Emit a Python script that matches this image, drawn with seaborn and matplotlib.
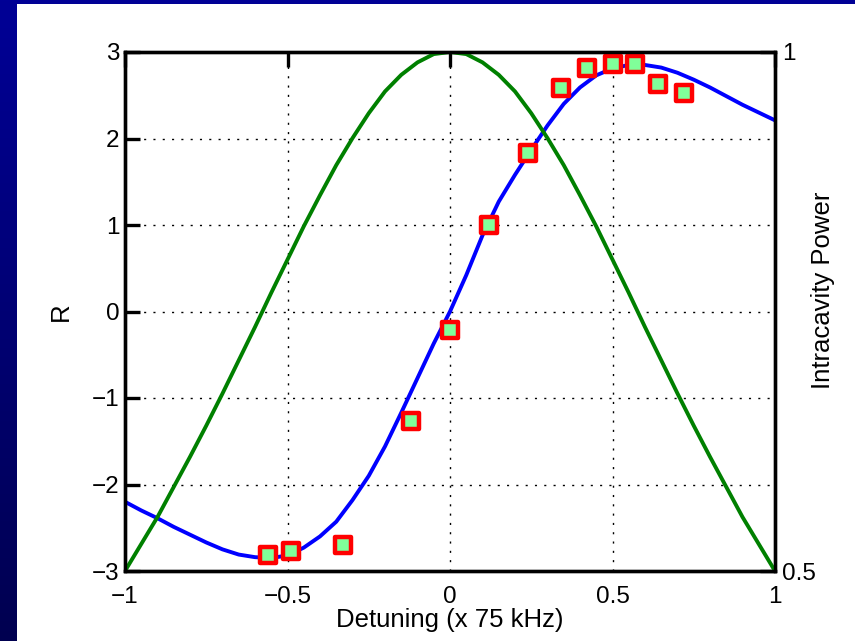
import numpy as np
import pandas as pd
import matplotlib
matplotlib.use('Agg')
import matplotlib.pyplot as plt
from matplotlib.patches import Rectangle
import seaborn as sns

detuning = [-1.00, -0.95, -0.90, -0.85, -0.80, -0.75, -0.70, -0.65, -0.60, -0.55,
            -0.50, -0.45, -0.40, -0.35, -0.30, -0.25, -0.20, -0.15, -0.10, -0.05,
            0.00, 0.05, 0.10, 0.15, 0.20, 0.25, 0.30, 0.35, 0.40, 0.45,
            0.50, 0.55, 0.60, 0.65, 0.70, 0.75, 0.80, 0.85, 0.90, 0.95, 1.00]

# fitted R (blue, left axis)
fit_R = [-2.20, -2.30, -2.39, -2.49, -2.58, -2.67, -2.75, -2.81, -2.84, -2.85,
         -2.82, -2.73, -2.60, -2.43, -2.18, -1.90, -1.56, -1.17, -0.77, -0.37,
         0.00, 0.42, 0.88, 1.27, 1.58, 1.87, 2.15, 2.40, 2.59, 2.73,
         2.81, 2.85, 2.85, 2.82, 2.76, 2.68, 2.59, 2.49, 2.39, 2.30, 2.21]

# intracavity power (green, right axis)
power = [0.500, 0.526, 0.552, 0.581, 0.610, 0.640, 0.671, 0.703, 0.735, 0.768,
         0.800, 0.832, 0.862, 0.891, 0.917, 0.941, 0.962, 0.978, 0.990, 0.998,
         1.000, 0.998, 0.990, 0.978, 0.962, 0.941, 0.917, 0.891, 0.862, 0.832,
         0.800, 0.768, 0.735, 0.703, 0.671, 0.640, 0.610, 0.581, 0.552, 0.526, 0.500]

# measured points
meas_x = [-0.56, -0.49, -0.33, -0.12, 0.00, 0.12, 0.24, 0.34, 0.42, 0.50, 0.57, 0.64, 0.72]
meas_R = [-2.82, -2.77, -2.70, -1.27, -0.21, 1.00, 1.83, 2.58, 2.81, 2.86, 2.86, 2.63, 2.53]

x_ticks = [-1, -0.5, 0, 0.5, 1]
x_labels = ['\u22121', '\u22120.5', '0', '0.5', '1']
y_ticks = [-3, -2, -1, 0, 1, 2, 3]
y_labels = ['\u22123', '\u22122', '\u22121', '0', '1', '2', '3']
p_ticks = [0.5, 1]
p_labels = ['0.5', '1']

curves = pd.DataFrame({'Detuning': detuning, 'R': fit_R, 'Power': power})
points = pd.DataFrame({'Detuning': meas_x, 'R': meas_R})

sns.set_theme(style='white')
plt.rcParams['font.family'] = ['Liberation Sans', 'DejaVu Sans']
plt.rcParams['axes.unicode_minus'] = True

fig = plt.figure(figsize=(8.55, 6.41), dpi=100)

# slide-style navy frame behind a white page
bg = fig.add_axes([0, 0, 1, 1], zorder=-10)
grad = np.linspace(150, 80, 256)[:, None] / 255.0
bg.imshow(np.dstack([np.zeros_like(grad), np.zeros_like(grad), grad]),
          aspect='auto', extent=[0, 1, 0, 1])
bg.add_patch(Rectangle((17 / 855, 0), 1, 1 - 4 / 641, facecolor='white', edgecolor='none'))
bg.set_xlim(0, 1)
bg.set_ylim(0, 1)
bg.axis('off')

ax = fig.add_axes([125 / 855, 70 / 641, 650 / 855, 519 / 641])
ax.set_facecolor('white')

sns.lineplot(data=curves, x='Detuning', y='R', ax=ax, color='#0000ff', lw=2.8,
             sort=False, estimator=None)
sns.scatterplot(data=points, x='Detuning', y='R', ax=ax, marker='s', s=117,
                color='#80ff99', edgecolor='#ff0000', linewidth=3.2, zorder=4)

ax.set_xlim(-1, 1)
ax.set_ylim(-3, 3)
ax.set_xticks(x_ticks, labels=x_labels)
ax.set_yticks(y_ticks, labels=y_labels)
ax.grid(True, color='black', linestyle=(0, (1.5, 5.2)), linewidth=1.0)
ax.tick_params(axis='both', direction='in', top=True, right=True, length=11, width=2.4,
               labelsize=17.5, colors='black')
ax.tick_params(axis='x', pad=11)
ax.tick_params(axis='y', pad=4)
for s in ax.spines.values():
    s.set_linewidth(2.4)
    s.set_color('black')
    s.set_visible(True)

ax.set_xlabel('Detuning (x 75 kHz)', fontsize=18.5, color='black')
ax.set_ylabel('R', fontsize=18.5, color='black')
ax.xaxis.set_label_coords(0.5, -0.072)
ax.yaxis.set_label_coords(-0.08, 0.5)

ax2 = ax.twinx()
sns.lineplot(data=curves, x='Detuning', y='Power', ax=ax2, color='#008000', lw=2.8,
             sort=False, estimator=None)
ax2.set_ylim(0.5, 1)
ax2.set_yticks(p_ticks, labels=p_labels)
ax2.tick_params(axis='y', direction='in', length=11, width=2.4, labelsize=17.5, pad=5,
                colors='black')
ax2.set_ylabel('Intracavity Power', fontsize=18.5, color='black')
ax2.yaxis.set_label_coords(1.055, 0.541)
for s in ax2.spines.values():
    s.set_linewidth(2.4)
    s.set_color('black')

fig.savefig('out.png', dpi=100)
